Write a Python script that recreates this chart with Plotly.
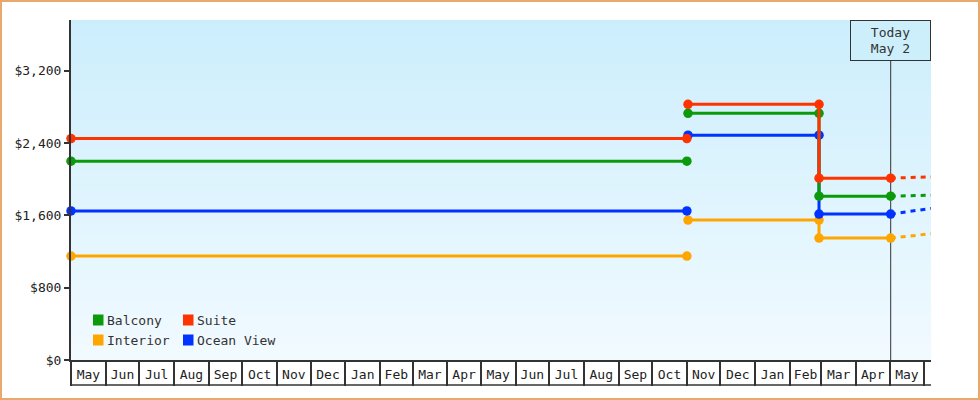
import plotly.graph_objects as go

# ---------------- data ----------------
series_names = ["Balcony", "Suite", "Interior", "Ocean View"]
series_colors = ["#0A9A0A", "#FF3300", "#FFA500", "#0033FF"]

# fare periods (dates)
period1_start = "2023-05-01"
period1_end = "2024-11-01"
period2_start = "2024-11-02"
price_change = "2025-02-27"
today = "2025-05-02"
forecast_end = "2025-06-07"

# prices per series for each period
period1_prices = [2199, 2449, 1149, 1649]
period2_prices = [2728, 2828, 1547, 2486]
period3_prices = [1812, 2011, 1349, 1614]
forecast_prices = [1823, 2025, 1396, 1676]

y_ticks = [0, 800, 1600, 2400, 3200]
axis_start = "2023-05-01"
axis_end = "2025-06-07"
y_max = 3760

today_label = "Today<br>May 2"

FONT = "DejaVu Sans Mono"
DARK = "#333333"

fig = go.Figure()

# draw order: Suite on top
draw_order = [2, 3, 0, 1]
for i in draw_order:
    name = series_names[i]
    col = series_colors[i]
    xs = [period1_start, period1_end, None, period2_start, price_change, price_change, today]
    ys = [period1_prices[i], period1_prices[i], None,
          period2_prices[i], period2_prices[i], period3_prices[i], period3_prices[i]]
    fig.add_trace(go.Scatter(
        x=xs, y=ys, mode="lines+markers", name=name,
        line=dict(color=col, width=3), marker=dict(color=col, size=9.5, symbol="circle"),
        connectgaps=False, showlegend=False, hoverinfo="x+y+name", cliponaxis=False,
    ))
    fig.add_trace(go.Scatter(
        x=[today, forecast_end], y=[period3_prices[i], forecast_prices[i]],
        mode="lines", line=dict(color=col, width=3, dash="5px,5px"),
        showlegend=False, hoverinfo="skip", name=name + " forecast",
    ))

# dummy trace for the separator axis
fig.add_trace(go.Scatter(x=[], y=[], xaxis="x2", showlegend=False, hoverinfo="skip"))

L, R, T, B = 71, 49, 20, 40
W, H = 980, 400

shapes = []
# gradient background bands
top_rgb = (204, 238, 252)
bot_rgb = (241, 250, 255)
nb = 68
for k in range(nb):
    f = k / (nb - 1)
    c = tuple(round(top_rgb[j] + (bot_rgb[j] - top_rgb[j]) * f) for j in range(3))
    y1 = 1 - k / nb
    y0 = max(0, 1 - (k + 1) / nb - 0.004)
    shapes.append(dict(type="rect", xref="paper", yref="paper", x0=0, x1=1, y0=y0, y1=y1,
                       fillcolor="rgb(%d,%d,%d)" % c, line=dict(width=0), layer="below"))
# today line
shapes.append(dict(type="line", xref="x", yref="paper", x0=today, x1=today, y0=0, y1=1,
                   line=dict(color=DARK, width=1), layer="below"))
# bottom line of the month boxes
shapes.append(dict(type="line", xref="paper", yref="paper", x0=0, x1=1,
                   ysizemode="pixel", yanchor=0, y0=-25, y1=-25,
                   line=dict(color=DARK, width=1.5)))
# figure border
shapes.append(dict(type="rect", xref="paper", yref="paper",
                   xsizemode="pixel", xanchor=0, x0=-L + 1, x1=W - L - 1,
                   ysizemode="pixel", yanchor=0, y0=-B + 1, y1=H - B - 1,
                   line=dict(color="#E8AA6C", width=2)))

annotations = []
# manual legend (2 x 2)
legend_layout = [(0, 0, 0), (1, 1, 0), (2, 0, 1), (3, 1, 1)]  # idx, col, row
col_x = [93 - L, 183 - L]
row_y = [H - B - 320, H - B - 340]
for idx, c, r in legend_layout:
    sx = col_x[c]
    sy = row_y[r]
    shapes.append(dict(type="rect", xref="paper", yref="paper",
                       xsizemode="pixel", xanchor=0, x0=sx, x1=sx + 10.5,
                       ysizemode="pixel", yanchor=0, y0=sy - 5.5, y1=sy + 5.5,
                       fillcolor=series_colors[idx], line=dict(width=0)))
    annotations.append(dict(xref="paper", yref="paper", x=0, y=0, xanchor="left", yanchor="middle",
                            xshift=sx + 12, yshift=sy, text=series_names[idx], showarrow=False,
                            font=dict(family=FONT, size=13, color=DARK)))

annotations.append(dict(xref="x", yref="paper", x=today, y=1, xanchor="center", yanchor="top",
                        text=today_label, showarrow=False, width=79, height=39, borderpad=0,
                        bgcolor="rgb(205,239,252)", bordercolor=DARK, borderwidth=1,
                        font=dict(family=FONT, size=13, color=DARK)))

fig.update_layout(
    width=W, height=H,
    margin=dict(l=L, r=R, t=T, b=B, pad=0),
    paper_bgcolor="white",
    plot_bgcolor="rgb(241,250,255)",
    font=dict(family=FONT, size=13, color=DARK),
    showlegend=False,
    shapes=shapes,
    annotations=annotations,
    xaxis=dict(type="date", range=[axis_start, axis_end], ticklabelmode="period",
               dtick="M1", tick0=axis_start, tickformat="%b", ticks="",
               showline=True, linecolor=DARK, linewidth=2, showgrid=False, zeroline=False,
               ticklabelstandoff=1, tickfont=dict(family=FONT, size=13, color="#222")),
    xaxis2=dict(type="date", range=[axis_start, axis_end], overlaying="x", anchor="y", side="bottom",
                dtick="M1", tick0=axis_start, ticks="outside", ticklen=25, tickwidth=1.5,
                tickcolor=DARK, showticklabels=False, showgrid=False, showline=False, zeroline=False),
    yaxis=dict(range=[0, y_max], tickvals=y_ticks, tickformat="$,", ticks="outside",
               ticklen=5, tickwidth=2, tickcolor=DARK, showline=True, linecolor=DARK,
               linewidth=2, showgrid=False, zeroline=False,
               tickfont=dict(family=FONT, size=13, color="#222")),
)

fig.write_html("out.html", config={"displayModeBar": False},
               post_script="document.body.style.margin='0';")
